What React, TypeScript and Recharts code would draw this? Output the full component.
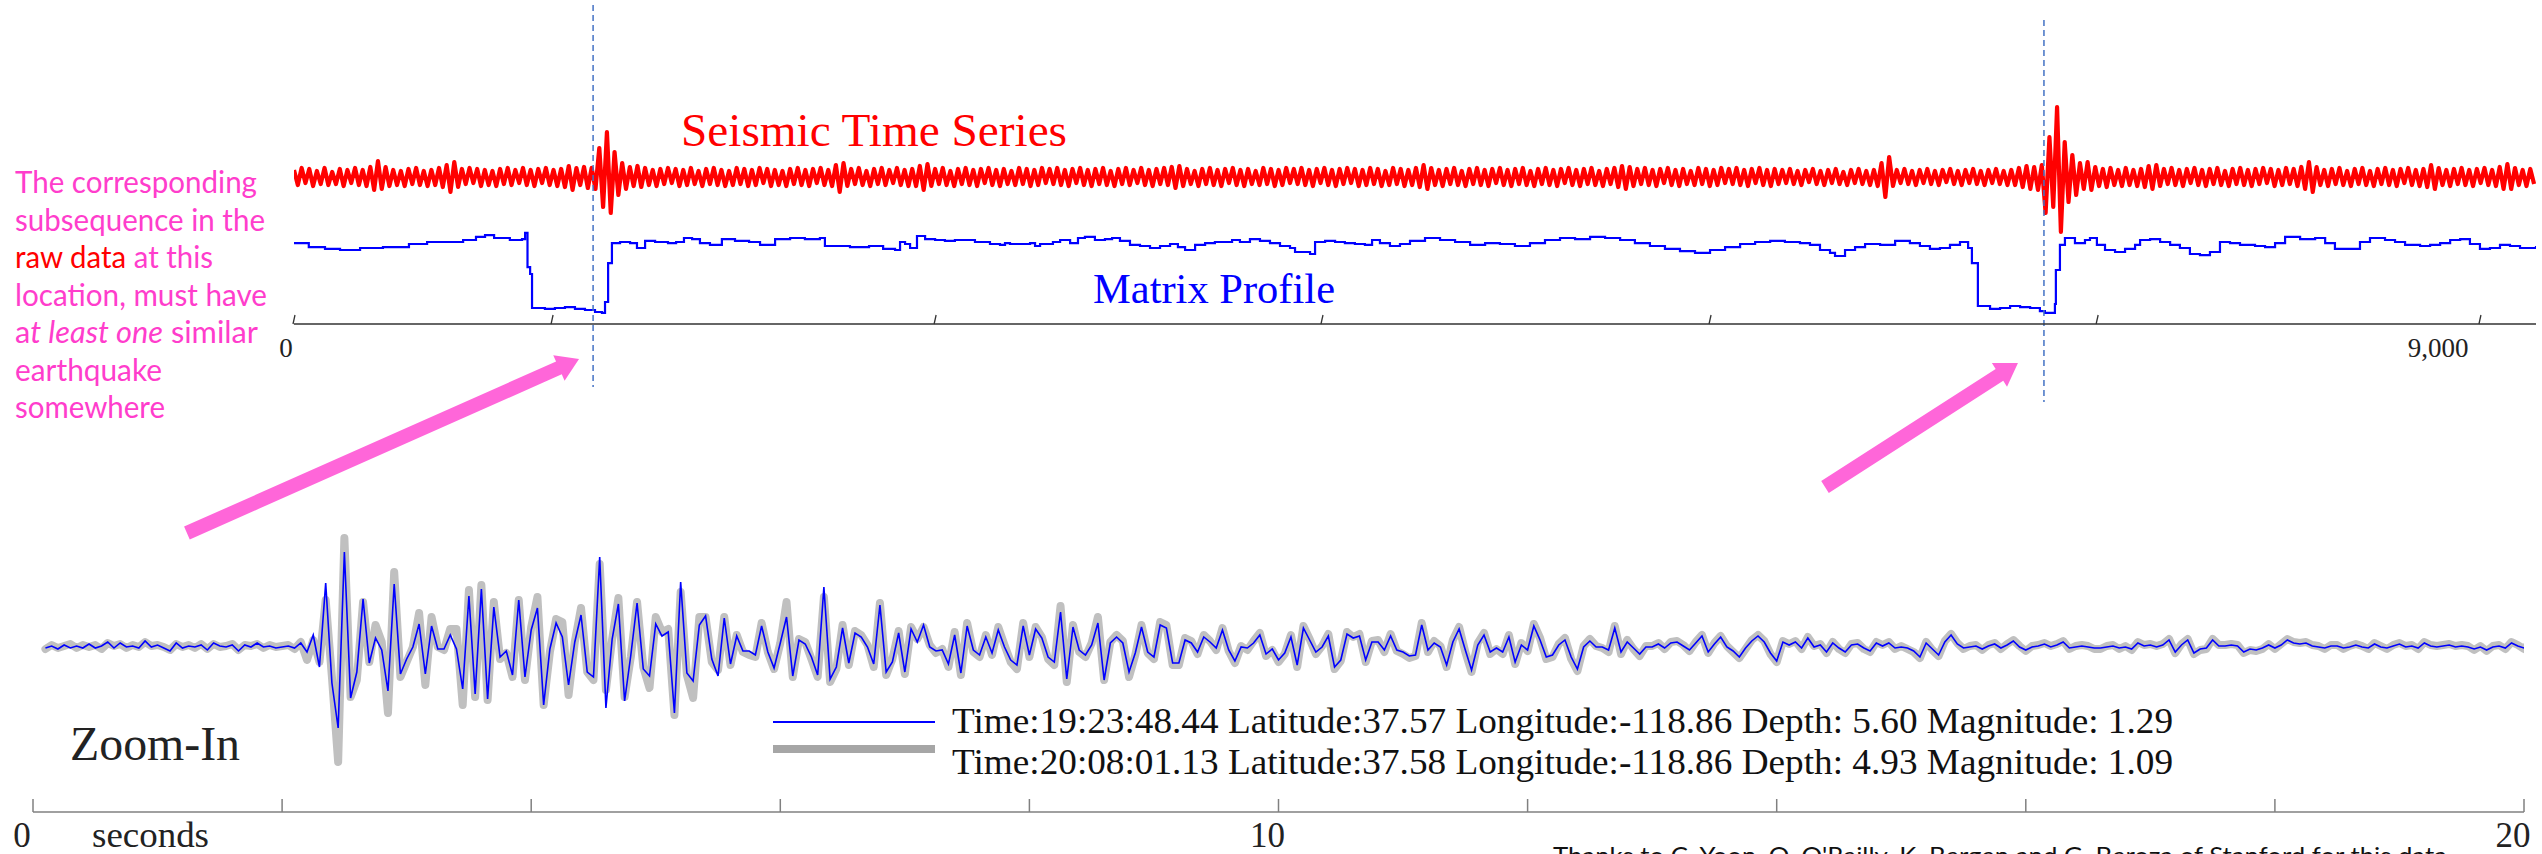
import React from "react";
import { LineChart, Line, XAxis, YAxis, ReferenceLine } from "recharts";

const SERIF = "'Liberation Serif', 'Times New Roman', Times, serif";
const SANS = "Lato, 'Noto Sans', 'Open Sans', sans-serif";

// ---------- Top panel: seismic time series (decimated, every 16th sample) ----------
const RED_STEP = 16;
const RED: number[] = [
  7,-8,9,-6,8,-9,6,-7,9,-8, 5,-7,8,-9,7,-6,9,-8,7,-9, 10,-13,16,-12,10,-9,7,-8,6,-9,
  8,-7,9,-8,6,-9,7,-8,9,-10, 12,-15,15,-10,8,-7,9,-6,8,-9, 7,-8,6,-9,8,-7,9,-8,7,-6,
  9,-8,7,-9,8,-6,9,-8,7,-9, 8,-10,11,-13,9,-8,10,-11,9,-12, 29,-30,45,-36,25,-18,14,-12,10,-9,
  11,-10,9,-8,7,-9,8,-7,9,-6, 8,-9,7,-8,9,-7,6,-9,8,-7, 9,-8,7,-9,6,-8,9,-7,8,-9,
  7,-8,9,-6,8,-9,7,-8,6,-9, 8,-7,9,-8,7,-9,8,-6,9,-8, 7,-9,12,-15,14,-9,8,-7,9,-8,
  6,-9,8,-7,9,-8,7,-6,9,-8, 7,-9,8,-9,11,-13,13,-9,8,-7, 9,-8,6,-9,8,-7,9,-8,7,-9,
  8,-6,9,-8,7,-9,8,-7,6,-8, 9,-7,8,-9,7,-8,9,-6,8,-7, 9,-8,7,-9,8,-6,9,-8,7,-9,
  8,-7,9,-8,6,-9,8,-7,9,-8, 7,-6,9,-8,7,-9,8,-7,9,-8, 10,-11,11,-9,8,-7,6,-9,8,-7,
  9,-8,7,-9,8,-6,9,-8,7,-9, 8,-7,6,-8,9,-7,8,-9,7,-8, 9,-6,8,-7,9,-8,7,-9,8,-6,
  9,-8,7,-9,8,-7,9,-6,8,-9, 7,-8,9,-7,8,-9,6,-8,9,-7, 8,-9,7,-8,9,-10,12,-12,9,-8,
  7,-9,8,-7,9,-8,6,-9,8,-7, 9,-8,7,-9,8,-6,9,-8,7,-9, 8,-7,9,-8,6,-9,8,-7,9,-8,
  7,-9,8,-6,9,-8,7,-9,8,-7, 9,-8,6,-9,8,-7,9,-10,11,-12, 10,-9,8,-7,9,-8,7,-9,8,-6,
  9,-8,7,-9,8,-7,6,-8,9,-7, 8,-9,7,-8,9,-6,8,-7,9,-8, 7,-9,8,-6,9,-8,7,-9,8,-7,
  7,-6,8,-7,6,-8,7,-5,8,-7, 6,-8,7,-6,8,-7,5,-8,7,-6, 8,-7,6,-8,7,-9,14,-20,20,-9,
  7,-6,8,-7,6,-8,7,-6,8,-7, 6,-8,7,-5,8,-7,6,-8,7,-6, 8,-7,6,-8,7,-6,8,-7,6,-8,
  7,-8,9,-10,11,-12,10,-13,12,-36, 40,-30,70,-55,35,-25,22,-18,14,-12, 15,-13,10,-9,8,-10,9,-8,7,-9,
  9,-8,7,-9,8,-10,11,-12,12,-9, 8,-7,9,-8,7,-9,8,-6,9,-8, 7,-9,8,-7,9,-8,6,-9,8,-7,
  9,-8,7,-9,8,-7,9,-6,8,-9, 7,-8,9,-7,8,-9,10,-12,15,-15, 10,-8,7,-9,8,-7,9,-8,6,-9,
  8,-7,9,-8,6,-9,8,-7,9,-8, 7,-9,8,-6,9,-8,7,-9,8,-10, 12,-12,9,-8,7,-9,8,-7,9,-8,
  7,-9,8,-6,9,-8,7,-9,10,-12, 13,-12,9,-8,7,-9,8,-7,
];

// ---------- Matrix profile: [sample index, distance] ----------
const MP: number[][] = [
  [0,10.1],[62,9.6],[130,9.4],[193,9.25],[277,9.5],[373,9.6],[482,10.0],[558,10.25],[658,10.25],[709,10.5],
  [763,10.9],[801,11.1],[839,10.75],[905,10.5],[956,10.6],[969,11.4],[979,7.1],[990,6.25],[998,2.0],[1052,1.9],
  [1094,2.0],[1136,2.1],[1178,1.9],[1220,1.75],[1262,1.5],[1291,1.4],[1304,2.75],[1317,7.6],[1333,10.1],[1367,10.25],
  [1409,10.1],[1438,9.5],[1472,10.4],[1514,10.25],[1568,10.1],[1602,10.25],[1635,10.75],[1669,10.6],[1702,10.1],[1744,9.9],
  [1794,10.6],[1849,10.4],[1908,10.25],[1954,9.9],[2017,10.6],[2080,10.75],[2142,10.6],[2205,10.75],[2226,9.75],[2281,9.75],
  [2331,9.6],[2411,9.75],[2470,9.4],[2520,9.25],[2541,10.25],[2562,10.0],[2583,9.5],[2612,11.0],[2646,10.6],[2688,10.5],
  [2729,10.4],[2771,10.5],[2813,10.5],[2855,10.25],[2918,10.0],[2960,9.9],[2981,10.1],[3002,10.0],[3086,10.1],[3107,9.75],
  [3128,10.0],[3182,10.25],[3212,10.5],[3254,10.1],[3287,10.75],[3316,10.9],[3358,10.5],[3400,10.6],[3430,10.75],[3463,10.4],
  [3505,9.9],[3547,9.75],[3589,9.5],[3631,9.75],[3673,10.0],[3706,9.6],[3736,9.25],[3778,9.9],[3820,10.1],[3861,10.25],
  [3933,10.5],[3966,10.25],[4008,10.6],[4050,10.4],[4092,10.1],[4134,9.75],[4176,9.5],[4197,9.0],[4260,8.75],[4281,10.25],
  [4323,10.4],[4365,10.25],[4406,10.1],[4448,10.0],[4490,9.9],[4520,10.5],[4553,10.1],[4595,9.75],[4637,10.0],[4679,10.4],
  [4742,10.75],[4805,10.5],[4868,10.25],[4931,9.9],[4994,10.1],[5056,10.0],[5119,9.75],[5182,10.1],[5245,10.5],[5308,10.75],
  [5371,10.6],[5434,10.9],[5497,10.75],[5560,10.5],[5622,10.1],[5685,9.75],[5748,9.4],[5811,9.1],[5874,8.9],[5937,9.25],
  [6000,9.6],[6063,10.0],[6126,10.25],[6189,10.4],[6251,10.25],[6314,10.1],[6356,9.9],[6398,9.25],[6440,8.9],[6461,8.5],
  [6503,9.25],[6545,9.6],[6587,10.0],[6650,9.9],[6713,10.4],[6775,10.1],[6817,9.75],[6859,9.4],[6901,9.5],[6943,9.9],
  [6985,10.25],[7019,9.5],[7035,7.6],[7060,2.25],[7111,1.9],[7153,2.0],[7195,2.25],[7237,2.1],[7279,2.0],[7320,1.6],
  [7341,1.4],[7383,2.5],[7387,6.75],[7404,9.9],[7425,10.75],[7467,10.1],[7509,10.5],[7530,10.75],[7559,9.9],[7593,9.25],
  [7635,9.0],[7677,9.4],[7719,9.9],[7740,10.5],[7782,10.6],[7824,10.25],[7866,9.9],[7907,9.5],[7949,8.75],[7991,8.6],
  [8033,9.0],[8075,10.25],[8117,10.1],[8159,9.9],[8222,9.75],[8264,9.6],[8306,10.1],[8348,10.9],[8411,10.6],[8474,10.75],
  [8516,10.1],[8557,9.4],[8620,9.4],[8662,10.25],[8704,10.75],[8767,10.5],[8809,10.25],[8851,9.9],[8914,9.75],[8956,9.9],
  [8998,10.1],[9040,10.5],[9082,10.6],[9123,10.0],[9165,9.4],[9207,9.5],[9249,9.9],[9291,9.75],[9333,9.5],[9400,9.75],
];

// top axis tick marks and labels (sample index)
const TOP_TICK_MARKS = [0, 1082, 2688, 4310, 5937, 7560, 9165];
const TOP_LABEL_VALUES = [0, 8990];
const TOP_LABEL_TEXT = ["0", "9,000"];
const TOP_LABEL_DX = [-8, 0];
const TOP_TICKS = [0, 1082, 2688, 4310, 5937, 7560, 8990, 9165];

// annotations in top-panel coordinates (sample index, red-axis units)
const MARKERS = [
  { s: 1254, top: 172, bottom: -210 },
  { s: 7337, top: 157, bottom: -225 },
];
const ARROWS = [
  { from: { s: -449, v: -356 }, to: { s: 1195, v: -182 } },
  { from: { s: 6419, v: -310 }, to: { s: 7228, v: -186 } },
];

// ---------- Zoom-in: two similar earthquakes, 20 samples / second ----------
const ZOOM_RATE = 20;
const ZOOM_FIRST_SAMPLE = 2;
const BLUE: number[] = [
  -1,1,-2,2,-1,1,-1,3,-1,1,
  5,-1,4,0,1,-1,6,0,2,-1,
  -4,4,-1,1,0,2,-3,4,1,0,
  2,-4,2,0,4,0,1,-1,0,1,
  -1,4,-5,12,-20,64,-36,-81,95,-51,
  -25,48,-16,9,-3,-44,63,-27,-12,0,
  23,-27,21,-2,-2,12,-2,-42,51,-47,
  58,-52,40,-10,-4,-28,47,-30,17,39,
  -58,-2,24,10,-38,5,32,-25,-30,90,
  -61,8,43,-54,-8,44,-22,-29,23,11,
  15,-66,65,-26,-34,22,31,-12,-29,29,
  -17,11,-4,-4,-8,21,-5,-21,4,30,
  -29,7,3,-10,-28,60,-32,-20,19,-16,
  14,10,0,-17,42,-25,-15,14,-25,18,
  5,22,0,-4,-3,-17,12,-26,21,-3,
  -8,10,-6,17,0,-13,-18,21,-8,18,
  9,-10,-15,35,-32,20,-3,-8,2,24,
  -33,4,10,4,-25,-6,20,-5,-10,22,
  19,-16,-16,7,4,-5,10,5,-1,17,
  -3,-14,0,-1,4,12,-7,-2,-13,-6,
  10,-18,19,7,-5,0,11,-20,-13,13,
  9,11,-13,5,5,-3,11,-3,-5,-9,
  -8,22,-3,4,0,-18,5,18,-3,-23,
  2,12,-5,-1,-5,10,-15,2,-3,21,
  7,-10,-8,2,7,-10,-22,0,6,0,
  0,-3,19,-5,5,-1,-7,0,0,3,
  -1,4,5,1,-3,4,11,-5,3,10,
  0,-4,-10,-1,6,11,5,-6,-14,5,
  2,5,-1,9,0,2,-5,4,-1,-5,
  2,3,-1,-4,4,1,4,-1,0,-1,
  -4,-10,4,-2,-8,5,12,3,-1,0,
  1,-2,1,3,-1,2,6,0,-3,0,
  1,3,0,2,5,-1,0,1,0,-1,
  -1,0,1,-1,0,-2,4,1,2,0,
  2,7,-5,2,7,-6,-2,-1,7,1,
  1,2,1,-5,-2,-3,-1,2,-1,2,
  7,4,3,4,1,0,-1,1,1,-1,
  0,2,0,-1,3,0,-1,1,3,0,
  1,-1,4,1,0,1,2,0,1,0,
  -2,0,-3,0,1,-1,4,1,-1,4,
];
const GREY: number[] = [
  -2,2,-1,1,3,-1,2,0,2,-2,
  4,1,3,-1,2,0,5,1,2,0,
  -3,3,0,2,-1,3,-2,3,0,1,
  3,-3,2,1,3,-1,2,0,1,2,
  -2,5,-13,7,-15,47,-30,-115,109,-50,
  -33,45,-15,22,5,-66,75,-30,-15,0,
  34,-38,30,0,-3,18,18,-58,57,-50,
  62,-53,45,-12,-6,-30,47,-33,20,50,
  -58,-5,28,25,-48,5,39,-25,-33,83,
  -43,8,49,-50,-10,45,-20,-41,30,15,
  18,-68,55,-28,-51,30,30,-15,-23,30,
  -18,12,-5,-8,-10,24,-5,-22,4,45,
  -30,8,5,-12,-30,50,-35,-22,22,-18,
  16,12,2,-20,44,-28,-12,16,-27,20,
  8,20,2,-6,-2,-20,15,-28,24,-5,
  -10,12,-8,20,2,-15,-22,24,-10,20,
  10,-12,-18,41,-35,22,-5,-10,4,30,
  -33,5,12,6,-30,-8,22,-6,-12,25,
  22,-18,-18,9,6,-7,12,6,-3,19,
  -4,-16,1,-3,6,14,-9,-3,-15,-7,
  12,-20,21,8,-7,1,13,-22,-14,15,
  10,13,-15,6,7,-5,13,-4,-7,-11,
  -9,24,-5,6,1,-20,7,20,-5,-25,
  4,14,-7,-2,-7,12,-17,4,-4,23,
  9,-12,-10,3,9,-12,-24,1,8,1,
  -1,-5,21,-7,7,-2,-9,1,1,4,
  -2,5,6,2,-4,5,12,-6,4,11,
  1,-5,-11,-2,7,12,6,-7,-15,6,
  3,6,-2,10,1,3,-6,5,-2,-6,
  3,4,-2,-5,5,2,5,-2,1,-2,
  -5,-11,5,-3,-9,6,13,4,-2,1,
  2,-3,2,4,-2,3,7,1,-4,1,
  2,4,1,3,6,-2,1,2,1,-2,
  -2,1,2,-2,1,-3,5,2,3,1,
  3,8,-6,3,8,-7,-3,-2,8,2,
  2,3,2,-6,-3,-4,-2,3,-2,3,
  8,5,4,5,2,1,-2,2,2,-2,
  1,3,1,-2,4,1,-2,2,4,1,
  2,-2,5,2,1,2,3,1,2,1,
  -3,1,-4,1,2,-2,5,2,-2,5,
];

const BOTTOM_TICKS = [0, 2, 4, 6, 8, 10, 12, 14, 16, 18, 20];
const BOTTOM_LABEL_VALUES = [0, 10, 20];
const BOTTOM_LABEL_TEXT = ["0", "10", "20"];

const LEGEND_LINES = [
  "Time:19:23:48.44 Latitude:37.57 Longitude:-118.86 Depth: 5.60 Magnitude: 1.29",
  "Time:20:08:01.13 Latitude:37.58 Longitude:-118.86 Depth: 4.93 Magnitude: 1.09",
];

// ---------- derived tables ----------
const redData = RED.map((v, k) => ({ s: k * RED_STEP, v }));
const mpData = MP.map(([s, v]) => ({ s, v }));
const zoomData = BLUE.map((b, k) => ({
  t: (k + ZOOM_FIRST_SAMPLE) / ZOOM_RATE,
  blue: b,
  grey: GREY[k],
}));

function TopTick(props: any) {
  const { x, y, payload } = props;
  const v = payload.value;
  const isMark = TOP_TICK_MARKS.indexOf(v) >= 0;
  const li = TOP_LABEL_VALUES.indexOf(v);
  return (
    <g>
      {isMark && <line x1={x - 1} y1={y} x2={x + 1} y2={y - 9} stroke="#333" strokeWidth={1.3} />}
      {li >= 0 && (
        <text x={x + TOP_LABEL_DX[li]} y={y + 33} textAnchor="middle" fontFamily={SERIF} fontSize={27} fill="#222">
          {TOP_LABEL_TEXT[li]}
        </text>
      )}
    </g>
  );
}

function BottomTick(props: any) {
  const { x, y, payload } = props;
  const v = payload.value;
  const li = BOTTOM_LABEL_VALUES.indexOf(v);
  return (
    <g>
      <line x1={x} y1={y} x2={x} y2={y - 13} stroke="#808080" strokeWidth={1.5} />
      {li >= 0 && (
        <text x={x - 11} y={y + 35} textAnchor="middle" fontFamily={SERIF} fontSize={35} fill="#222">
          {BOTTOM_LABEL_TEXT[li]}
        </text>
      )}
    </g>
  );
}

function ArrowShape(p: any) {
  const { x1, y1, x2, y2 } = p;
  const dx = x2 - x1;
  const dy = y2 - y1;
  const len = Math.hypot(dx, dy) || 1;
  const ux = dx / len;
  const uy = dy / len;
  const nx = -uy;
  const ny = ux;
  const hw = 7;
  const hh = 14;
  const hl = 22;
  const bx = x2 - ux * hl;
  const by = y2 - uy * hl;
  const pts = [
    [x1 + nx * hw, y1 + ny * hw],
    [bx + nx * hw, by + ny * hw],
    [bx + nx * hh, by + ny * hh],
    [x2, y2],
    [bx - nx * hh, by - ny * hh],
    [bx - nx * hw, by - ny * hw],
    [x1 - nx * hw, y1 - ny * hw],
  ];
  return <polygon points={pts.map((q) => q.join(",")).join(" ")} fill="#ff66d9" />;
}

const MAGENTA = "#ff3dcc";

export default function App() {
  return (
    <div style={{ position: "absolute", left: 0, top: 0, width: 2542, height: 854, overflow: "hidden", background: "#fff" }}>
      <div style={{ position: "absolute", left: 0, top: 0 }}>
        <LineChart width={2542} height={560} data={redData} margin={{ top: 0, right: 6, bottom: 196, left: 294 }}>
          <XAxis
            dataKey="s"
            type="number"
            domain={[0, 9400]}
            allowDataOverflow
            ticks={TOP_TICKS}
            interval={0}
            tickSize={0}
            tickMargin={0}
            tickLine={false}
            tick={TopTick}
            axisLine={{ stroke: "#333", strokeWidth: 1.5 }}
            height={40}
          />
          <YAxis yAxisId="red" domain={[-147, 177]} hide allowDataOverflow />
          <YAxis yAxisId="mp" domain={[0, 40.5]} hide allowDataOverflow />
          <Line
            yAxisId="red"
            dataKey="v"
            stroke="#ff0000"
            strokeWidth={4.2}
            strokeLinejoin="round"
            dot={false}
            activeDot={false}
            isAnimationActive={false}
          />
          <Line
            yAxisId="mp"
            data={mpData}
            dataKey="v"
            type="stepAfter"
            stroke="#0000ff"
            strokeWidth={2.2}
            dot={false}
            activeDot={false}
            isAnimationActive={false}
          />
          {MARKERS.map((m, i) => (
            <ReferenceLine
              key={"m" + i}
              yAxisId="red"
              segment={[{ x: m.s, y: m.top }, { x: m.s, y: m.bottom }]}
              stroke="#4472c4"
              strokeWidth={1.5}
              strokeDasharray="6 4"
              ifOverflow="visible"
            />
          ))}
          {ARROWS.map((a, i) => (
            <ReferenceLine
              key={"a" + i}
              yAxisId="red"
              segment={[{ x: a.from.s, y: a.from.v }, { x: a.to.s, y: a.to.v }]}
              ifOverflow="visible"
              shape={ArrowShape}
            />
          ))}
        </LineChart>
      </div>

      <div style={{ position: "absolute", left: 0, top: 500 }}>
        <LineChart width={2542} height={354} data={zoomData} margin={{ top: 0, right: 18, bottom: 0, left: 33 }}>
          <XAxis
            dataKey="t"
            type="number"
            domain={[0, 20]}
            allowDataOverflow
            ticks={BOTTOM_TICKS}
            interval={0}
            tickSize={0}
            tickMargin={0}
            tickLine={false}
            tick={BottomTick}
            axisLine={{ stroke: "#808080", strokeWidth: 1.5 }}
            height={42}
          />
          <YAxis domain={[-165, 147]} hide allowDataOverflow />
          <Line
            dataKey="grey"
            stroke="#c0c0c0"
            strokeWidth={8}
            strokeLinejoin="round"
            strokeLinecap="round"
            dot={false}
            activeDot={false}
            isAnimationActive={false}
          />
          <Line
            dataKey="blue"
            stroke="#0000ff"
            strokeWidth={1.6}
            dot={false}
            activeDot={false}
            isAnimationActive={false}
          />
        </LineChart>
      </div>

      <svg width={2542} height={854} style={{ position: "absolute", left: 0, top: 0, pointerEvents: "none" }}>
        <text x={681} y={146} fontFamily={SERIF} fontSize={47} fill="#ff0000" textLength={386} lengthAdjust="spacingAndGlyphs">
          Seismic Time Series
        </text>
        <text x={1093} y={303} fontFamily={SERIF} fontSize={42} fill="#0000ff" textLength={242} lengthAdjust="spacingAndGlyphs">
          Matrix Profile
        </text>

        <g fontFamily={SANS} fontSize={31} fill={MAGENTA}>
          <text x={15} y={193} textLength={242} lengthAdjust="spacingAndGlyphs">The corresponding</text>
          <text x={15} y={230.5} textLength={250} lengthAdjust="spacingAndGlyphs">subsequence in the</text>
          <text x={15} y={268} textLength={198} lengthAdjust="spacingAndGlyphs">
            <tspan fill="#ff0000">raw data</tspan> at this
          </text>
          <text x={15} y={305.5} textLength={252} lengthAdjust="spacingAndGlyphs">location, must have</text>
          <text x={15} y={343} textLength={243} lengthAdjust="spacingAndGlyphs">
            a<tspan fontStyle="italic">t least one</tspan> similar
          </text>
          <text x={15} y={380.5} textLength={147} lengthAdjust="spacingAndGlyphs">earthquake</text>
          <text x={15} y={418} textLength={150} lengthAdjust="spacingAndGlyphs">somewhere</text>
        </g>

        <text x={70} y={760} fontFamily={SERIF} fontSize={48} fill="#222" textLength={170} lengthAdjust="spacingAndGlyphs">
          Zoom-In
        </text>

        <line x1={773} y1={722} x2={935} y2={722} stroke="#0000ff" strokeWidth={2} />
        <line x1={773} y1={749} x2={935} y2={749} stroke="#a6a6a6" strokeWidth={8} />
        <text x={952} y={733} fontFamily={SERIF} fontSize={36} fill="#111" textLength={1221} lengthAdjust="spacingAndGlyphs">
          {LEGEND_LINES[0]}
        </text>
        <text x={952} y={774} fontFamily={SERIF} fontSize={36} fill="#111" textLength={1221} lengthAdjust="spacingAndGlyphs">
          {LEGEND_LINES[1]}
        </text>

        <text x={92} y={847} fontFamily={SERIF} fontSize={35} fill="#222" textLength={117} lengthAdjust="spacingAndGlyphs">
          seconds
        </text>

        <text x={1553} y={864} fontFamily={SANS} fontSize={24} fill="#111" textLength={894} lengthAdjust="spacingAndGlyphs">
          Thanks to C. Yoon, O. O'Reilly, K. Bergen and G. Beroza of Stanford for this data
        </text>
      </svg>
    </div>
  );
}
